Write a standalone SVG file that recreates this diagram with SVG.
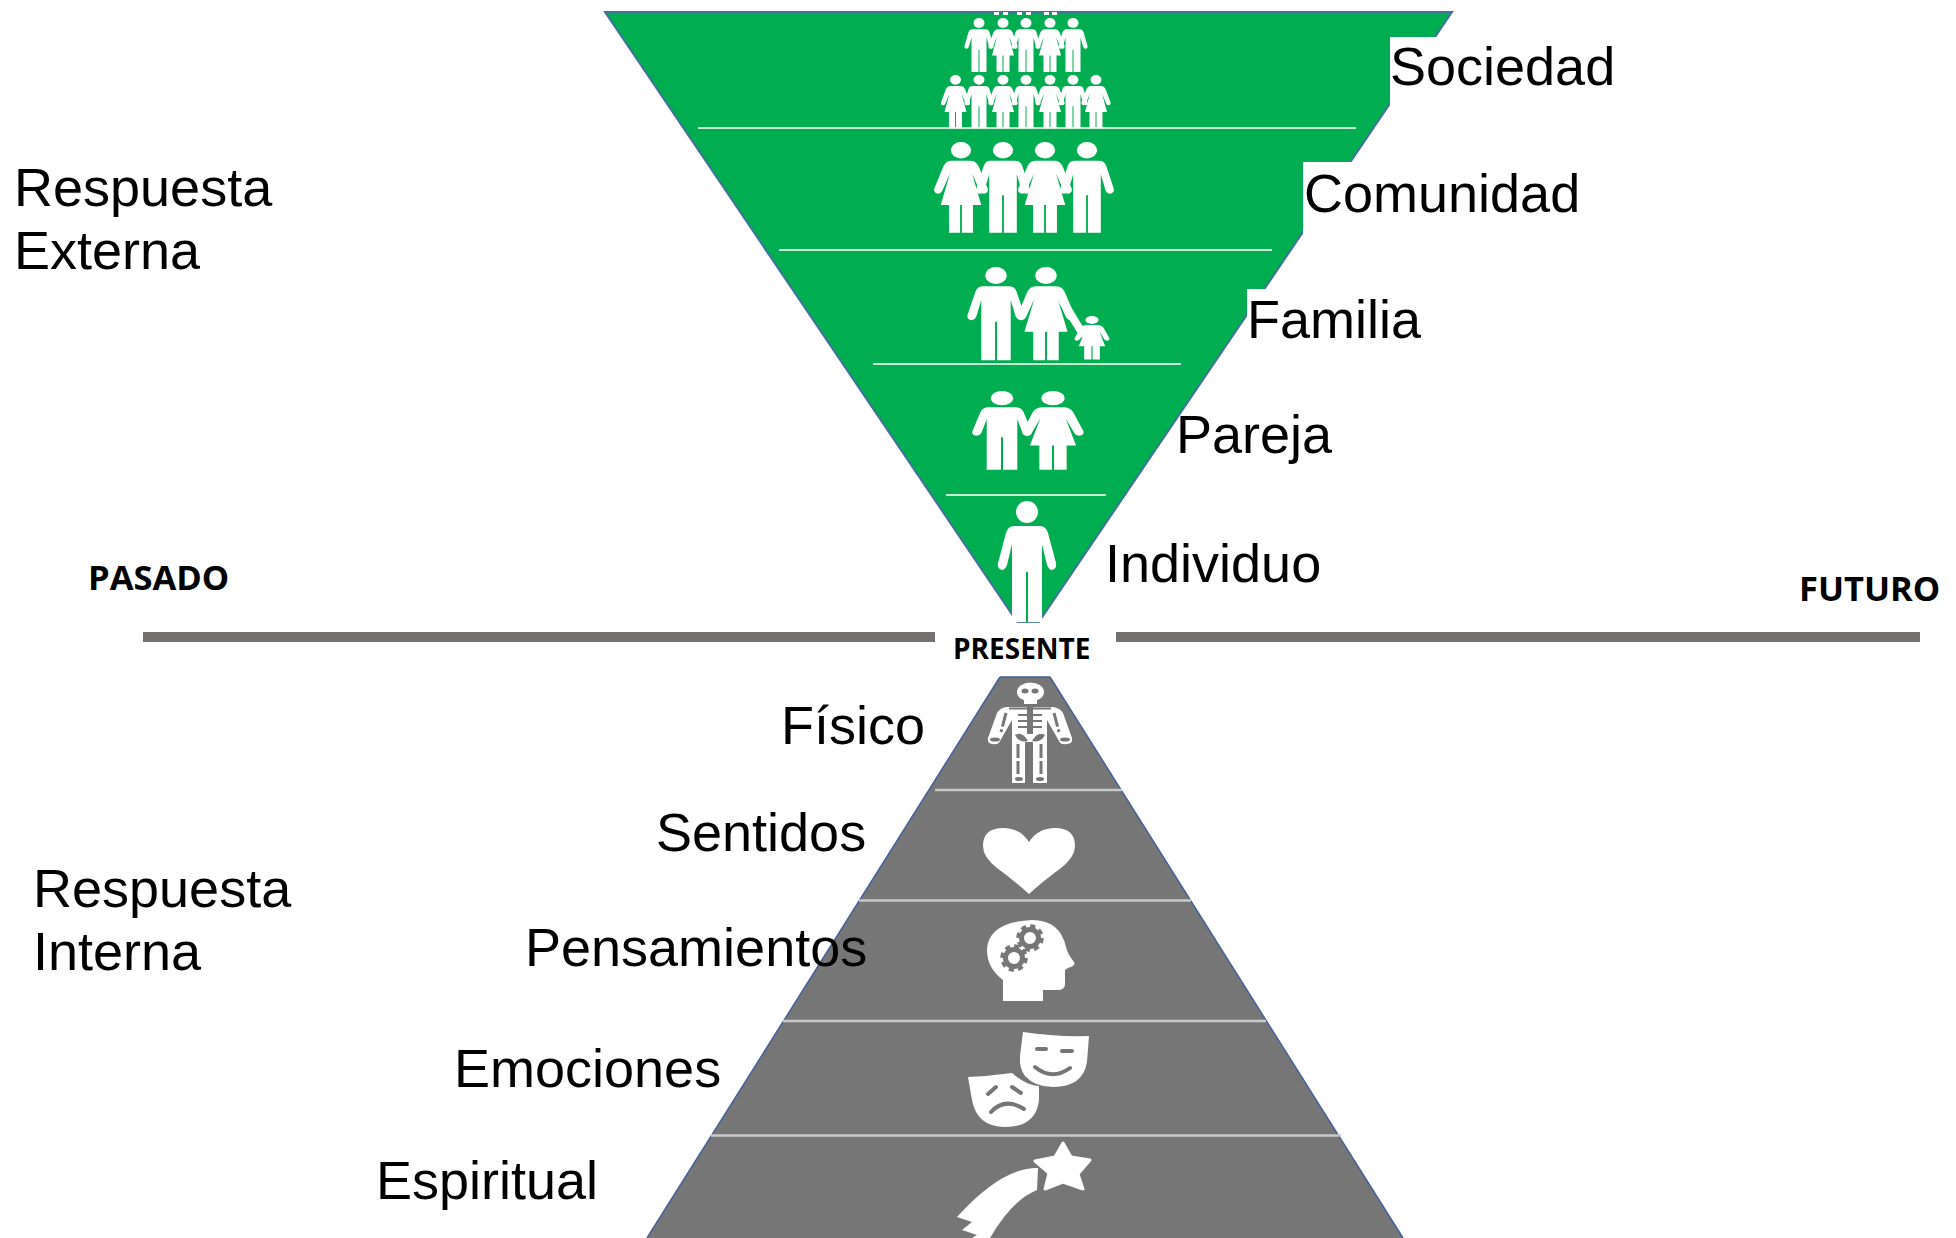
<svg xmlns="http://www.w3.org/2000/svg" xmlns:xlink="http://www.w3.org/1999/xlink" width="1956" height="1238" viewBox="0 0 1956 1238">
<style>
.lb{font-family:"Liberation Sans",Arial,sans-serif;font-size:54px;fill:#000}
.hd{font-family:"Open Sans","Noto Sans",sans-serif;font-size:34.5px;font-weight:700;fill:#000}
.ps{font-family:"Open Sans","Noto Sans",sans-serif;font-size:28px;font-weight:700;fill:#000}
.gl{stroke:#c9ecd6;stroke-width:2;fill:none}
.yl{stroke:#c8c8c8;stroke-width:2.5;fill:none}
.ic{fill:#fff}
.cut{fill:#767676}
.bar{fill:#767171}
</style>
<defs>
<g id="man"><circle cx="0" cy="11" r="11"/><path d="M-13 25Q-19 25-21 32L-29 62Q-30 68-25 69Q-22 69-20 64L-15 43V121H-1V71H1V121H15V43L20 64Q22 69 25 69Q30 68 29 62L21 32Q19 25 13 25Z"/></g>
<g id="woman"><circle cx="0" cy="11" r="11"/><path d="M-10 25Q-16 25-19 32L-29 62Q-30 68-25 69Q-22 69-20 64L-12 42L-22 84H-13V121H-1V84H1V121H13V84H22L12 42L20 64Q22 69 25 69Q30 68 29 62L19 32Q16 25 10 25Z"/></g>
</defs>
<rect width="1956" height="1238" fill="#fff"/>

<g id="piramide-externa">
<path d="M605 12H1452L1028 638Z" fill="#00ad50" stroke="#41719c" stroke-width="2"/>
<rect x="1390" y="37" width="90" height="68" fill="#fff"/>
<rect x="1303" y="162" width="70" height="71" fill="#fff"/>
<rect x="1247" y="289" width="40" height="40" fill="#fff"/>
<rect x="1000" y="622.5" width="60" height="20" fill="#fff"/>
<path d="M1017 622H1040" stroke="#41719c" stroke-width="1.5"/>
<path class="gl" d="M698 128H1356M779 250H1272M873 364H1181M946 495H1106"/>
</g>

<g id="piramide-interna">
<path d="M1000 677H1050L1403 1238H647Z" fill="#767676"/>
<path d="M1000 677L647 1238M1050 677L1403 1238" stroke="#41619a" stroke-width="1.5" fill="none"/>
<path d="M1000 677H1050" stroke="#41619a" stroke-width="1.5"/>
<path class="yl" d="M935 790H1122M859 900.5H1191M783 1021H1266M711 1135.5H1341"/>
</g>

<g id="linea-tiempo">
<rect class="bar" x="143" y="632" width="792" height="10"/>
<rect class="bar" x="1116" y="632" width="804" height="10"/>
</g>

<g id="sociedad" class="ic">
<rect x="994" y="12" width="5" height="3"/><rect x="1003" y="12" width="5" height="3"/><rect x="1017" y="12" width="5" height="3"/><rect x="1026" y="12" width="5" height="3"/><rect x="1044" y="12" width="5" height="3"/><rect x="1052" y="12" width="5" height="3"/>
<use xlink:href="#man" href="#man" transform="translate(979 18) scale(.5 .446)"/>
<use xlink:href="#woman" href="#woman" transform="translate(1003 18) scale(.5 .446)"/>
<use xlink:href="#man" href="#man" transform="translate(1026 18) scale(.5 .446)"/>
<use xlink:href="#woman" href="#woman" transform="translate(1050 18) scale(.5 .446)"/>
<use xlink:href="#man" href="#man" transform="translate(1073 18) scale(.5 .446)"/>
<use xlink:href="#woman" href="#woman" transform="translate(955.5 75) scale(.5 .44)"/>
<use xlink:href="#man" href="#man" transform="translate(979 75) scale(.5 .44)"/>
<use xlink:href="#woman" href="#woman" transform="translate(1003 75) scale(.5 .44)"/>
<use xlink:href="#man" href="#man" transform="translate(1026 75) scale(.5 .44)"/>
<use xlink:href="#woman" href="#woman" transform="translate(1050 75) scale(.5 .44)"/>
<use xlink:href="#man" href="#man" transform="translate(1073 75) scale(.5 .44)"/>
<use xlink:href="#woman" href="#woman" transform="translate(1096 75) scale(.5 .44)"/>
<text class="lb" x="1390" y="85">Sociedad</text>
</g>

<g id="comunidad" class="ic">
<use xlink:href="#woman" href="#woman" transform="translate(961 142) scale(.92 .75)"/>
<use xlink:href="#man" href="#man" transform="translate(1003 142) scale(.92 .75)"/>
<use xlink:href="#woman" href="#woman" transform="translate(1045 142) scale(.92 .75)"/>
<use xlink:href="#man" href="#man" transform="translate(1087 142) scale(.92 .75)"/>
<text class="lb" x="1304" y="212">Comunidad</text>
</g>

<g id="familia" class="ic">
<use xlink:href="#man" href="#man" transform="translate(996 267) scale(.98 .77)"/>
<use xlink:href="#woman" href="#woman" transform="translate(1046 267) scale(.98 .77)"/>
<path d="M1062 300L1084 336" stroke="#fff" stroke-width="8" fill="none"/>
<use xlink:href="#woman" href="#woman" transform="translate(1092 316) scale(.6 .36)"/>
<text class="lb" x="1247" y="338">Familia</text>
</g>

<g id="pareja" class="ic">
<use xlink:href="#man" href="#man" transform="translate(1002 391) scale(1.02 .65)"/>
<use xlink:href="#woman" href="#woman" transform="translate(1053 391) scale(1.05 .65)"/>
<text class="lb" x="1176" y="453">Pareja</text>
</g>

<g id="individuo" class="ic">
<use xlink:href="#man" href="#man" transform="translate(1027 501)"/>
<text class="lb" x="1105" y="582">Individuo</text>
</g>

<g id="fisico">
<g class="ic">
<ellipse cx="1030.5" cy="692" rx="13.5" ry="9.5"/><rect x="1024" y="697" width="13" height="7"/>
<path d="M1006 707H1053Q1060 708 1063 713L1072 738Q1073 744 1066 744Q1061 745 1059 741L1047 720V783H1033V742H1025V783H1012V720L1000 741Q998 745 993 744Q987 744 988 738L997 713Q1000 708 1006 707Z"/>
</g>
<g class="cut">
<ellipse cx="1025" cy="691" rx="3.5" ry="2.5"/><ellipse cx="1035" cy="691" rx="3.5" ry="2.5"/>
<rect x="1009" y="707.5" width="18" height="2"/><rect x="1033" y="707.5" width="18" height="2"/>
<rect x="1018" y="714" width="9" height="2"/><rect x="1033" y="714" width="9" height="2"/>
<rect x="1018" y="720" width="9" height="2"/><rect x="1033" y="720" width="9" height="2"/>
<rect x="1018" y="726" width="9" height="2"/><rect x="1033" y="726" width="9" height="2"/>
<rect x="1027" y="705" width="6" height="29"/>
<path d="M1015 735Q1022 731 1028 741Q1019 743 1015 735ZM1045 735Q1038 731 1032 741Q1041 743 1045 735Z"/>
<ellipse cx="995" cy="739.5" rx="5" ry="2"/><ellipse cx="1065" cy="739.5" rx="5" ry="2"/>
<ellipse cx="1019" cy="779" rx="4" ry="2"/><ellipse cx="1040" cy="779" rx="4" ry="2"/>
</g>
<path d="M1006 713L1001 732M1054 713L1059 732M1018 744V774M1041 744V774" fill="none" stroke="#767676" stroke-width="3" stroke-dasharray="14 3"/>
<text class="lb" x="781" y="744">Físico</text>
</g>

<g id="sentidos">
<path class="ic" d="M1029 894Q1016 882 997 868Q983 857 983 846Q983 828 1003 828Q1020 828 1029 842Q1038 828 1055 828Q1075 828 1075 846Q1075 857 1061 868Q1042 882 1029 894Z"/>
<text class="lb" x="656" y="851">Sentidos</text>
</g>

<g id="pensamientos">
<path class="ic" d="M1032 920Q1060 920 1066 947Q1067 953 1074 962Q1076 966 1068 968L1065 970V985Q1064 990 1058 990H1043V1001H1003V980Q987 968 987 950Q988 922 1032 920Z"/>
<g fill="none" stroke="#767676">
<circle cx="1030" cy="938" r="8.5" stroke-width="5"/>
<circle cx="1030" cy="938" r="12" stroke-width="3.5" stroke-dasharray="5.2 4.2"/>
<circle cx="1014" cy="958" r="8.5" stroke-width="5"/>
<circle cx="1014" cy="958" r="12" stroke-width="3.5" stroke-dasharray="5.2 4.2"/>
</g>
<text class="lb" x="525" y="966">Pensamientos</text>
</g>

<g id="emociones">
<path class="ic" d="M1023 1032Q1055 1037 1089 1036L1087 1062Q1083 1087 1053 1087Q1035 1087 1025 1076Q1019 1068 1020 1056Z"/>
<path class="ic" d="M968 1077Q990 1076 1012 1073Q1020 1080 1027 1083Q1034 1086 1039 1086V1100Q1036 1127 1005 1127Q977 1127 972 1100Z"/>
<g fill="none" stroke="#767676" stroke-width="4" stroke-linecap="round">
<path d="M1037 1049H1046M1062 1051H1072M1035 1067Q1052 1081 1070 1068M988 1094L996 1087M1012 1087L1021 1093M991 1112Q1005 1097 1024 1109"/>
</g>
<text class="lb" x="454" y="1087">Emociones</text>
</g>

<g id="espiritual">
<path class="ic" d="M1063 1143L1071 1157L1090 1160L1078 1174L1083 1189L1063 1182L1045 1189L1049 1173L1035 1161L1055 1157Z" stroke="#fff" stroke-width="3" stroke-linejoin="round"/>
<path class="ic" d="M1038 1168Q1002 1167 957 1217L972 1222L962 1230L977 1235L972 1238H990Q1012 1200 1037 1190Z"/>
<text class="lb" x="376" y="1199">Espiritual</text>
</g>

<g id="respuesta-externa"><text class="lb" x="14" y="206">Respuesta</text><text class="lb" x="14" y="269">Externa</text></g>
<g id="respuesta-interna"><text class="lb" x="33" y="907">Respuesta</text><text class="lb" x="33" y="970">Interna</text></g>
<g id="pasado"><text class="hd" x="88" y="590">PASADO</text></g>
<g id="futuro"><text class="hd" x="1799" y="601">FUTURO</text></g>
<g id="presente"><text class="ps" x="953" y="659">PRESENTE</text></g>
</svg>
